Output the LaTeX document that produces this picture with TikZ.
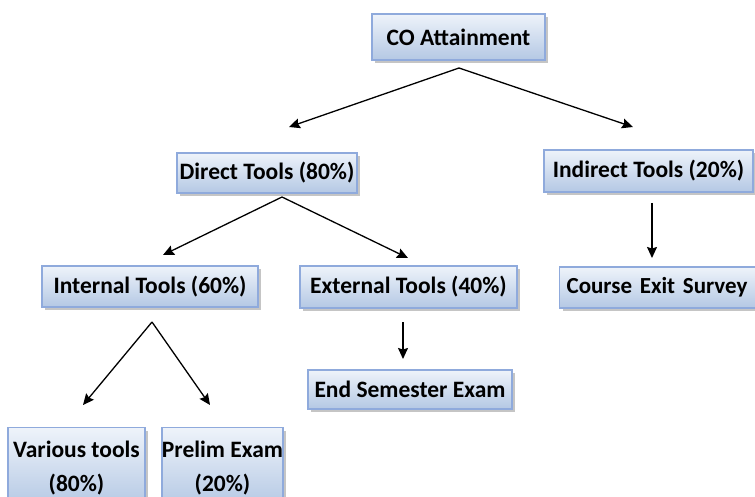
\documentclass[tikz,border=0pt]{standalone}
\usepackage{fontspec}
\setmainfont{Carlito}
\usetikzlibrary{arrows.meta,shadows}
\definecolor{boxedge}{HTML}{8FAADC}
\definecolor{boxtop}{HTML}{EEF3FA}
\definecolor{boxbot}{HTML}{B4C8E4}
\tikzset{
  tbox/.style={draw=boxedge, line width=1.2pt, top color=boxtop, bottom color=boxbot,
    drop shadow={shadow xshift=3pt, shadow yshift=-3pt, fill=black!45},
    font=\bfseries\fontsize{23.5}{28}\selectfont, inner sep=0pt, align=center},
  arr/.style={line width=1.3pt, -{Stealth[length=11pt,width=10pt,inset=1.5pt]}}
}
\begin{document}
\begin{tikzpicture}[x=1pt,y=-1pt]
\useasboundingbox (0,0) rectangle (755,497);
\node[tbox, minimum width=173pt, minimum height=46pt] (co) at (458.5,37) {CO Attainment};
\node[tbox, minimum width=180pt, minimum height=40pt] (direct) at (267,173) {Direct Tools (80\%)};
\node[tbox, minimum width=209pt, minimum height=42pt] (indirect) at (648.5,171) {Indirect Tools (20\%)};
\node[tbox, minimum width=216pt, minimum height=41pt] (internal) at (150,286.5) {Internal Tools (60\%)};
\node[tbox, minimum width=217pt, minimum height=42pt] (external) at (408.5,287) {External Tools (40\%)};
\node[tbox, text width=208pt, align=left, minimum height=41pt, anchor=west, font=\bfseries\fontsize{23}{28}\selectfont] (exit) at (559,287.5) {\hspace*{7pt}Course Exit Survey};
\node[tbox, minimum width=204pt, minimum height=39pt] (endsem) at (410,389.5) {End Semester Exam};
\node[tbox, minimum width=137pt, minimum height=80pt, anchor=north, font=\bfseries\fontsize{23.5}{34}\selectfont] (various) at (76.5,427) {Various tools\\(80\%)};
\node[tbox, minimum width=121pt, minimum height=80pt, anchor=north, font=\bfseries\fontsize{23.5}{34}\selectfont] (prelim) at (222.5,427) {Prelim Exam\\(20\%)};
\coordinate (coS) at (459,68);
\coordinate (dirN) at (289,127);
\coordinate (indN) at (633,127);
\coordinate (dirS) at (282,197);
\coordinate (intN) at (163,255);
\coordinate (extN) at (408,258);
\coordinate (indS) at (652,203);
\coordinate (exitN) at (652,258);
\coordinate (intS) at (152,322);
\coordinate (varN) at (83,405);
\coordinate (preN) at (210,405);
\coordinate (extS) at (403,322);
\coordinate (endN) at (403,359);
\draw[arr] (coS) -- (dirN);
\draw[arr] (coS) -- (indN);
\draw[arr] (dirS) -- (intN);
\draw[arr] (dirS) -- (extN);
\draw[arr] (indS) -- (exitN);
\draw[arr] (intS) -- (varN);
\draw[arr] (intS) -- (preN);
\draw[arr] (extS) -- (endN);
\end{tikzpicture}
\end{document}
